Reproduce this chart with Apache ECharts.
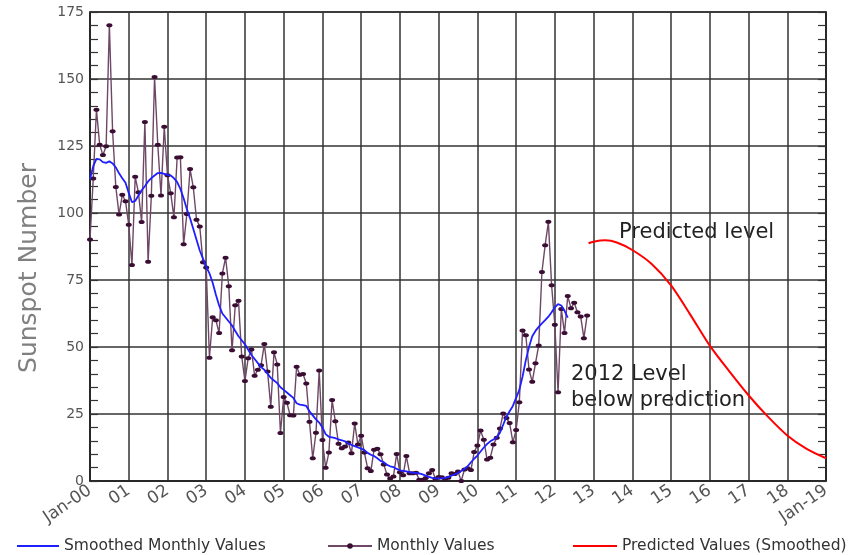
<!DOCTYPE html>
<html>
<head>
<meta charset="utf-8">
<script src="https://cdn.jsdelivr.net/npm/echarts@6/dist/echarts.min.js"></script>
<style>
  html, body { margin: 0; padding: 0; background: #fff; }
  #chart { width: 849px; height: 555px; }
</style>
</head>
<body>
<div id="chart"></div>
<script>
// Monthly sunspot numbers, Jan 2000 .. Nov 2012 (one value per month)
const monthlyValues = [
  90.1, 112.9, 138.5, 125.5, 121.6, 124.9, 170.1, 130.5, 109.7, 99.4, 106.8, 104.4,
  95.6, 80.6, 113.5, 107.7, 96.6, 134.0, 81.8, 106.4, 150.7, 125.5, 106.5, 132.2,
  114.1, 107.4, 98.4, 120.7, 120.8, 88.3, 99.6, 116.4, 109.6, 97.5, 95.0, 81.6,
  79.7, 46.0, 61.1, 60.0, 55.2, 77.4, 83.3, 72.7, 48.8, 65.6, 67.3, 46.5,
  37.3, 45.8, 49.1, 39.3, 41.5, 43.2, 51.1, 40.9, 27.7, 48.0, 43.5, 17.9,
  31.3, 29.2, 24.5, 24.4, 42.6, 39.6, 39.9, 36.4, 22.1, 8.5, 18.0, 41.2,
  15.3, 4.9, 10.6, 30.2, 22.3, 13.9, 12.2, 12.9, 14.4, 10.4, 21.5, 13.6,
  16.9, 10.6, 4.8, 3.7, 11.7, 12.0, 10.0, 6.2, 2.4, 0.9, 1.7, 10.1,
  3.3, 2.1, 9.3, 2.9, 2.9, 3.1, 0.5, 0.5, 1.1, 2.9, 4.1, 0.8,
  1.5, 1.4, 0.7, 1.2, 2.9, 2.6, 3.5, 0.0, 4.3, 4.8, 4.1, 10.8,
  13.2, 18.8, 15.4, 8.0, 8.7, 13.6, 16.1, 19.6, 25.2, 23.5, 21.6, 14.5,
  19.0, 29.4, 56.2, 54.4, 41.6, 37.0, 43.9, 50.6, 78.0, 88.0, 96.7, 73.0,
  58.3, 33.1, 64.2, 55.2, 69.0, 64.5, 66.5, 63.0, 61.4, 53.3, 61.8
];

// 13-month smoothed values, Jan 2000 .. May 2012
const smoothedValues = [
  112.6, 117.5, 120.2, 120.0, 119.0, 118.7, 119.3, 118.5, 117.0, 114.8, 113.0, 111.3,
  107.5, 104.0, 104.5, 106.5, 108.5, 110.0, 111.8, 113.0, 114.0, 114.9, 115.0, 114.6,
  114.2, 114.0, 113.0, 111.5, 109.0, 105.5, 101.5, 98.0, 94.0, 90.0, 86.0, 83.0,
  80.0, 77.5, 74.0, 69.5, 65.5, 62.5, 61.0, 59.5, 58.0, 56.0, 54.0, 52.5,
  51.0, 49.0, 47.0, 45.5, 44.0, 42.5, 41.5, 40.0, 38.5, 37.5, 36.5, 35.0,
  34.0, 33.0, 32.0, 31.0, 29.0, 28.5, 28.3, 28.0, 26.0, 24.5, 23.0, 21.8,
  20.0, 17.5, 16.5, 16.3, 16.0, 15.5, 15.2, 14.8, 14.0, 13.5, 13.0, 12.5,
  12.1, 11.5, 10.5, 9.8, 9.3, 8.5, 7.5, 7.0, 6.0, 5.5, 5.2, 4.5,
  4.0, 3.8, 3.6, 3.3, 3.0, 3.0, 2.8, 2.5, 2.0, 1.5, 1.2, 1.0,
  1.0, 1.0, 1.2, 1.5, 2.0, 2.5, 3.0, 3.7, 4.5, 5.5, 7.0, 8.3,
  9.5, 11.0, 12.5, 13.8, 14.8, 15.5, 16.2, 18.0, 21.0, 24.0, 26.0, 28.0,
  31.0, 34.0, 39.0, 45.0, 50.0, 54.0, 56.0, 57.5, 58.8, 60.0, 61.3, 63.0,
  64.8, 66.0, 65.5, 63.5, 61.0
];

// Predicted smoothed values (years after Jan 2000, value)
const predictedYears  = [12.87, 13.0, 13.3, 13.6, 14.0, 14.5, 15.0, 15.5, 16.0, 16.5, 17.0, 17.5, 18.0, 18.5, 19.0];
const predictedValues = [88.7, 89.3, 89.8, 89.0, 86.2, 81.0, 73.0, 62.0, 50.5, 41.0, 32.0, 24.0, 17.0, 12.0, 8.5];

// Year tick labels, Jan 2000 .. Jan 2019
const yearLabels = ['Jan-00', '01', '02', '03', '04', '05', '06', '07', '08', '09',
  '10', '11', '12', '13', '14', '15', '16', '17', '18', 'Jan-19'];

const monthlyData = monthlyValues.map((v, i) => [i / 12, v]);
const smoothedData = smoothedValues.map((v, i) => [i / 12, v]);
const predictedData = predictedYears.map((t, i) => [t, predictedValues[i]]);

const gridColor = '#333';
const labelFont = 'DejaVu Sans';

const chart = echarts.init(document.getElementById('chart'), null, { renderer: 'canvas' });

const yAxisBase = {
  type: 'value', min: 0, max: 175, interval: 25,
  axisLine: { show: true, lineStyle: { color: '#222', width: 1.5 } },
  axisTick: { show: true, inside: true, length: 8, lineStyle: { color: '#333', width: 1.2 } },
  minorTick: { show: true, splitNumber: 5, length: 8, lineStyle: { color: '#333', width: 1.2 } }
};

const legendText = { fontSize: 15.5, color: '#333', fontFamily: labelFont };

chart.setOption({
  animation: false,
  backgroundColor: '#fff',
  grid: { left: 90, right: 23, top: 12, bottom: 74, show: true, borderColor: '#222', borderWidth: 1.5 },
  xAxis: {
    type: 'value', min: 0, max: 19, interval: 1,
    axisLine: { show: true, lineStyle: { color: '#222', width: 1.5 } },
    axisTick: { show: false },
    splitLine: { show: true, lineStyle: { color: gridColor, width: 1.5 } },
    axisLabel: {
      rotate: 34, margin: 8, fontSize: 17, color: '#555', fontFamily: labelFont,
      formatter: v => yearLabels[Math.round(v)] || ''
    }
  },
  yAxis: [
    Object.assign({}, yAxisBase, {
      position: 'left',
      splitLine: { show: true, lineStyle: { color: gridColor, width: 1.5 } },
      axisLabel: { fontSize: 14, color: '#555', fontFamily: labelFont, margin: 6 }
    }),
    Object.assign({}, yAxisBase, {
      position: 'right',
      splitLine: { show: false },
      axisLabel: { show: false }
    })
  ],
  legend: [
    {
      data: [{ name: 'Smoothed Monthly Values', icon: 'rect' }], left: 12, top: 533,
      itemWidth: 42, itemHeight: 2,
      textStyle: legendText
    },
    {
      data: ['Monthly Values'], left: 322, top: 533,
      itemWidth: 44, itemHeight: 7,
      textStyle: legendText
    },
    {
      data: [{ name: 'Predicted Values (Smoothed)', icon: 'rect' }], left: 568, top: 533,
      itemWidth: 44, itemHeight: 2,
      textStyle: legendText
    }
  ],
  series: [
    {
      name: 'Monthly Values', type: 'line', data: monthlyData,
      symbol: 'circle', symbolSize: [6, 4], showSymbol: true,
      lineStyle: { color: '#6e4766', width: 1.4 },
      itemStyle: { color: '#3a0d33' },
      z: 2
    },
    {
      name: 'Smoothed Monthly Values', type: 'line', data: smoothedData,
      symbol: 'none',
      lineStyle: { color: '#1f1fff', width: 1.8 },
      itemStyle: { color: '#1f1fff' },
      z: 3
    },
    {
      name: 'Predicted Values (Smoothed)', type: 'line', data: predictedData,
      symbol: 'none', smooth: 0.3,
      lineStyle: { color: '#ff0000', width: 2 },
      itemStyle: { color: '#ff0000' },
      z: 3
    }
  ],
  graphic: [
    {
      type: 'text', x: 29, y: 268, rotation: Math.PI / 2,
      style: { text: 'Sunspot Number', fontSize: 25, fontFamily: 'DejaVu Sans', fill: '#808080',
               align: 'center', verticalAlign: 'middle' }
    },
    {
      type: 'text', left: 619, top: 222,
      style: { text: 'Predicted level', fontSize: 21, fontFamily: 'DejaVu Sans', fill: '#222' }
    },
    {
      type: 'text', left: 571, top: 362,
      style: { text: '2012 Level\nbelow prediction', fontSize: 21, lineHeight: 26,
               fontFamily: 'DejaVu Sans', fill: '#222' }
    }
  ]
});
</script>
</body>
</html>
